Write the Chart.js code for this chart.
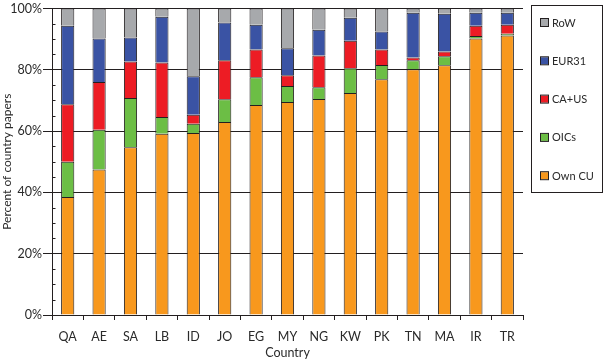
<!DOCTYPE html>
<html>
<head>
<meta charset="utf-8">
<script src="https://cdn.jsdelivr.net/npm/chart.js@4/dist/chart.umd.min.js"></script>
<style>
html,body{margin:0;padding:0;background:#fff;}
#wrap{width:603px;height:360px;position:relative;}
</style>
</head>
<body>
<div id="wrap"><canvas id="c" width="603" height="360"></canvas></div>
<script>
const countries = ["QA","AE","SA","LB","ID","JO","EG","MY","NG","KW","PK","TN","MA","IR","TR"];
const ownCU  = [38.5,47.5,54.7,59.1,59.4,63.0,68.5,69.5,70.5,72.4,76.9,80.2,81.5,90.2,91.2];
const oics   = [11.5,12.9,16.1,5.5,3.0,7.4,9.1,5.2,3.8,8.1,4.7,2.9,2.9,0.8,0.6];
const caus   = [18.8,15.6,11.9,17.8,2.9,12.7,9.0,3.5,10.4,9.0,5.0,0.9,1.6,3.4,2.9];
const eur31  = [25.6,14.2,7.8,14.9,12.6,12.3,8.1,8.8,8.4,7.5,5.9,14.6,12.3,4.2,3.9];
const row    = [5.6,9.8,9.5,2.7,22.1,4.6,5.3,13.0,6.9,3.0,7.5,1.4,1.7,1.4,1.4];
const yTicks = [0,20,40,60,80,100];

const FONT = "Lato, 'Open Sans', sans-serif";
const INK = '#231F20';
const TXT = '#2a2a2a';

function ds(label, data, color){
  return {label, data, backgroundColor: color, borderColor: INK,
          borderWidth: {top: 1, left: 1, right: 1, bottom: 0}, borderSkipped: false,
          categoryPercentage: 1.0, barPercentage: 0.42};
}

const legendPlugin = {
  id: 'boxLegend',
  afterDraw(chart){
    const ctx = chart.ctx;
    ctx.save();
    ctx.strokeStyle = INK; ctx.lineWidth = 1;
    ctx.strokeRect(531.5, 5.5, 71, 187);
    const items = chart.data.datasets.slice().reverse();
    ctx.font = "11px " + FONT;
    ctx.textBaseline = 'middle';
    items.forEach((d,i)=>{
      const y = 23 + i*38.3;
      ctx.fillStyle = d.backgroundColor;
      ctx.fillRect(541, y-4, 7, 7);
      ctx.strokeStyle = INK;
      ctx.strokeRect(540.5, y-4.5, 8, 8);
      ctx.fillStyle = TXT;
      ctx.fillText(d.label, 552, y);
    });
    // minor inward ticks on y axis
    const ys = chart.scales.y;
    ctx.strokeStyle = INK; ctx.lineWidth = 1;
    for(let v=0; v<=100; v+=5){
      if(v%20===0) continue;
      const py = Math.round(ys.getPixelForValue(v))+0.5;
      ctx.beginPath(); ctx.moveTo(chart.chartArea.left, py); ctx.lineTo(chart.chartArea.left+3.5, py); ctx.stroke();
    }
    ctx.restore();
  }
};

new Chart(document.getElementById('c'), {
  type: 'bar',
  data: {
    labels: countries,
    datasets: [
      ds('Own CU', ownCU, '#F8981D'),
      ds('OICs', oics, '#6CBE45'),
      ds('CA+US', caus, '#ED1C24'),
      ds('EUR31', eur31, '#3A53A4'),
      ds('RoW', row, '#A7A9AC')
    ]
  },
  options: {
    responsive: false,
    animation: false,
    layout: {padding: {left: 0, right: 80, top: 6, bottom: 0}},
    plugins: {legend: {display: false}, tooltip: {enabled: false}},
    scales: {
      x: {
        stacked: true,
        grid: {display: true, drawOnChartArea: false, drawTicks: true, tickLength: 5, color: INK, offset: true},
        border: {display: true, color: INK, width: 1},
        ticks: {color: TXT, font: {family: FONT, size: 12.5}, padding: 9, maxRotation: 0},
        title: {display: true, text: 'Country', color: TXT, font: {family: FONT, size: 12.5}, padding: {top: -3, bottom: 0}},
        afterFit(s){ s.height = 45; }
      },
      y: {
        stacked: true,
        min: 0, max: 100,
        afterBuildTicks(s){ s.ticks = yTicks.map(v=>({value:v})); },
        grid: {color: INK, lineWidth: 1, drawTicks: true, tickLength: 9, tickColor: INK},
        border: {display: true, color: INK, width: 1},
        ticks: {color: TXT, font: {family: FONT, size: 12.5}, padding: 1, callback: v => v + '%'},
        title: {display: true, text: 'Percent of country papers', color: TXT, font: {family: FONT, size: 12}, padding: {top: 0, bottom: 0}},
        afterFit(s){ s.width = 52; }
      }
    }
  },
  plugins: [legendPlugin]
});
</script>
</body>
</html>
